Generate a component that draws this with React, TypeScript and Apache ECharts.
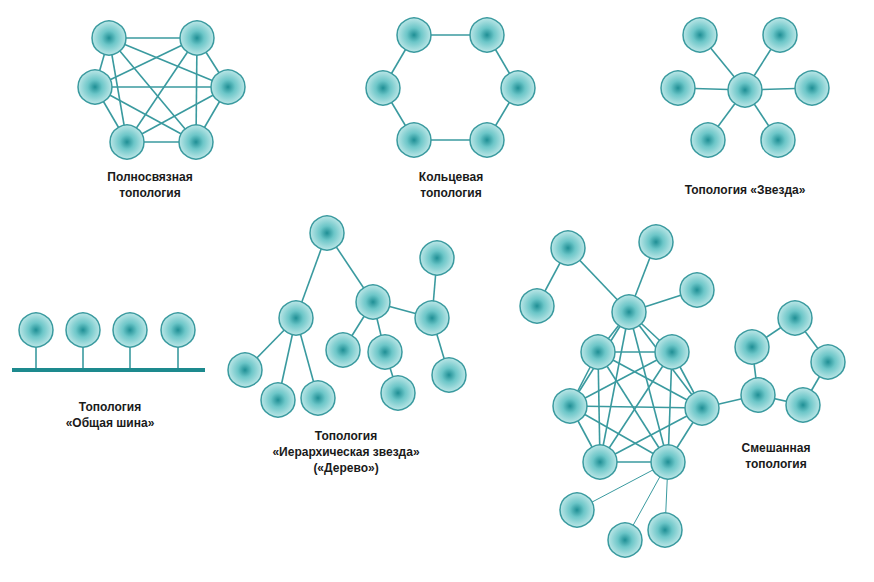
import React, { useEffect, useRef } from "react";
import * as echarts from "echarts";

// node positions in picture units [name, x, y]
const meshNodes: [string, number, number][] = [
  ["m1", 109, 38], ["m2", 197, 38], ["m3", 95, 87], ["m4", 228, 87], ["m5", 127, 142], ["m6", 196, 142],
];
const ringNodes: [string, number, number][] = [
  ["r1", 414, 35], ["r2", 487, 35], ["r4", 518, 88], ["r6", 487, 140], ["r5", 414, 140], ["r3", 383, 88],
];
const starCenter: [string, number, number] = ["s0", 745, 90];
const starNodes: [string, number, number][] = [
  ["s1", 700, 35], ["s2", 780, 35], ["s3", 678, 88], ["s4", 812, 88], ["s5", 708, 140], ["s6", 778, 140],
];
const busNodes: [string, number, number][] = [
  ["b1", 36, 330], ["b2", 83, 330], ["b3", 130, 330], ["b4", 178, 330],
];
const busX = [12, 205];
const busY = 370;
const treeNodes: [string, number, number][] = [
  ["t0", 327, 233], ["t1", 296, 318], ["t2", 373, 302], ["t3", 437, 258], ["t4", 432, 318],
  ["t5", 449, 375], ["t6", 245, 370], ["t7", 278, 400], ["t8", 318, 398], ["t9", 343, 350],
  ["t10", 385, 352], ["t11", 398, 393],
];
const treeEdges: [string, string][] = [
  ["t0", "t1"], ["t0", "t2"], ["t2", "t4"], ["t3", "t4"], ["t4", "t5"], ["t1", "t6"], ["t1", "t7"],
  ["t1", "t8"], ["t2", "t9"], ["t2", "t10"], ["t10", "t11"],
];
const mixMesh: [string, number, number][] = [
  ["x1", 629, 312], ["x2", 598, 352], ["x3", 672, 352], ["x4", 570, 406], ["x5", 702, 408],
  ["x6", 600, 462], ["x7", 668, 462],
];
const mixOther: [string, number, number][] = [
  ["y1", 568, 248], ["y2", 656, 242], ["y3", 697, 290], ["y4", 537, 306],
  ["z1", 758, 395], ["z2", 752, 347], ["z3", 795, 318], ["z4", 828, 362], ["z5", 803, 405],
  ["w1", 577, 510], ["w2", 625, 540], ["w3", 665, 530],
];
const mixEdges: [string, string][] = [
  ["x1", "y1"], ["x1", "y2"], ["x1", "y3"], ["y1", "y4"], ["x5", "z1"],
  ["z1", "z2"], ["z2", "z3"], ["z3", "z4"], ["z4", "z5"], ["z5", "z1"],
];
const thinEdges: [string, string][] = [["x7", "w1"], ["x7", "w2"], ["x7", "w3"]];
const labels: [string, number, number][] = [
  ["Полносвязная\nтопология", 150, 185],
  ["Кольцевая\nтопология", 451, 185],
  ["Топология «Звезда»", 745, 190],
  ["Топология\n«Общая шина»", 110, 415],
  ["Топология\n«Иерархическая звезда»\n(«Дерево»)", 346, 452],
  ["Смешанная\nтопология", 776, 456],
];

const allPairs = (n: [string, number, number][]) => {
  const e: [string, string][] = [];
  for (let i = 0; i < n.length; i++) for (let j = i + 1; j < n.length; j++) e.push([n[i][0], n[j][0]]);
  return e;
};

const App = () => {
  const ref = useRef<HTMLDivElement>(null);
  useEffect(() => {
    if (!ref.current) return;
    const chart = echarts.init(ref.current, null, { renderer: "svg" });
    const nodeStyle = {
      color: new echarts.graphic.RadialGradient(0.5, 0.5, 0.6, [
        { offset: 0, color: "#1f8f95" },
        { offset: 0.35, color: "#6cc6c8" },
        { offset: 1, color: "#d6f1f1" },
      ]),
      borderColor: "#3a9a9f",
      borderWidth: 1.5,
    };
    const visible = [
      ...meshNodes, ...ringNodes, starCenter, ...starNodes, ...busNodes, ...treeNodes, ...mixMesh, ...mixOther,
    ];
    const data: any[] = visible.map(([name, x, y]) => ({
      name, value: [x, y], symbolSize: 34, itemStyle: nodeStyle, z: 3,
    }));
    // invisible anchor points for the bus
    data.push({ name: "busL", value: [busX[0], busY], symbolSize: 0 });
    data.push({ name: "busR", value: [busX[1], busY], symbolSize: 0 });
    busNodes.forEach(([n, x]) => data.push({ name: n + "f", value: [x, busY], symbolSize: 0 }));

    const links: any[] = [];
    const add = (es: [string, string][], ls?: any) =>
      es.forEach(([s, t]) => links.push({ source: s, target: t, lineStyle: ls }));
    add(allPairs(meshNodes));
    add(ringNodes.map((n, i) => [n[0], ringNodes[(i + 1) % ringNodes.length][0]] as [string, string]));
    add(starNodes.map((n) => [starCenter[0], n[0]] as [string, string]));
    add(busNodes.map((n) => [n[0], n[0] + "f"] as [string, string]));
    add([["busL", "busR"]], { width: 4, color: "#1d8a8e" });
    add(treeEdges);
    add(allPairs(mixMesh));
    add(mixEdges);
    add(thinEdges, { width: 1 });

    chart.setOption({
      animation: false,
      backgroundColor: "#ffffff",
      grid: { left: 0, right: 0, top: 0, bottom: 0 },
      xAxis: { type: "value", min: 0, max: 874, show: false },
      yAxis: { type: "value", min: 0, max: 582, inverse: true, show: false },
      graphic: labels.map(([t, x, y]) => ({
        type: "text",
        x, y,
        style: {
          text: t, fill: "#1a1a1a", font: "bold 12px 'Liberation Sans', Arial, sans-serif",
          textAlign: "center", textVerticalAlign: "middle", lineHeight: 16,
        },
      })),
      series: [{
        type: "graph",
        coordinateSystem: "cartesian2d",
        layout: "none",
        data,
        links,
        symbol: "circle",
        label: { show: false },
        emphasis: { disabled: true },
        lineStyle: { color: "#3a9a9f", width: 1.6, opacity: 1 },
      }],
    });
    return () => chart.dispose();
  }, []);
  return <div ref={ref} style={{ width: 874, height: 582, margin: -8 }} />;
};

export default App;
